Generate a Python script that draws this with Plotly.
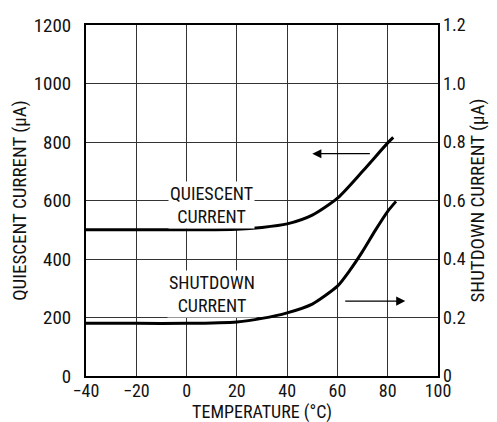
import plotly.graph_objects as go

# Data
quiescent_temp = [-40, -20, 0, 20, 30, 40, 50, 60, 70, 80, 82.2]
quiescent_ua = [500, 500, 500, 502, 508, 520, 550, 608, 700, 797, 816]

shutdown_temp = [-40, -20, 0, 20, 30, 40, 50, 60, 65, 70, 75, 80, 83.3]
shutdown_ua = [0.180, 0.180, 0.180, 0.185, 0.197, 0.216, 0.246, 0.307, 0.362, 0.426, 0.497, 0.563, 0.597]

x_ticks = [-40, -20, 0, 20, 40, 60, 80, 100]
x_labels = ["\u221240", "\u221220", "0", "20", "40", "60", "80", "100"]
y1_ticks = [0, 200, 400, 600, 800, 1000, 1200]
y2_ticks = [0, 0.2, 0.4, 0.6, 0.8, 1.0, 1.2]
y2_labels = ["0", "0.2", "0.4", "0.6", "0.8", "1.0", "1.2"]

FONT = "Roboto Condensed, Liberation Sans Narrow, Arial Narrow, sans-serif"
TXT = dict(size=19, color="#111", family=FONT)
XTXT = dict(size=18, color="#111", family=FONT)
LBL = dict(size=18, color="#111", family=FONT)

fig = go.Figure()
fig.add_trace(go.Scatter(x=quiescent_temp, y=quiescent_ua, mode="lines",
                         line=dict(color="black", width=3, shape="spline", smoothing=0.7),
                         showlegend=False, yaxis="y"))
fig.add_trace(go.Scatter(x=shutdown_temp, y=shutdown_ua, mode="lines",
                         line=dict(color="black", width=3, shape="spline", smoothing=0.6),
                         showlegend=False, yaxis="y2"))

# labels
fig.add_annotation(x=10, y=583, yref="y", text="QUIESCENT<br>CURRENT", showarrow=False,
                   bgcolor="white", borderpad=1, font=LBL)
fig.add_annotation(x=10, y=279, yref="y", text="SHUTDOWN<br>CURRENT", showarrow=False,
                   bgcolor="white", borderpad=1, font=LBL)

# arrows
fig.add_annotation(x=50, y=760, ax=73.5, ay=760, xref="x", yref="y", axref="x", ayref="y",
                   text="", showarrow=True, arrowhead=2, arrowsize=1.4, arrowwidth=1.3, arrowcolor="black")
fig.add_annotation(x=87, y=0.256, ax=62.5, ay=0.256, xref="x", yref="y2", axref="x", ayref="y2",
                   text="", showarrow=True, arrowhead=2, arrowsize=1.4, arrowwidth=1.3, arrowcolor="black")

fig.update_layout(
    width=497, height=422,
    margin=dict(l=78, r=67, t=17, b=54),
    paper_bgcolor="white", plot_bgcolor="white",
    font=dict(family=FONT, color="#111"),
    xaxis=dict(range=[-40, 100], tickvals=x_ticks, ticktext=x_labels,
               showgrid=True, gridcolor="#333", gridwidth=1, zeroline=False,
               showline=True, linecolor="black", linewidth=2, mirror=True,
               ticks="", tickfont=XTXT, automargin=False, ticklabelstandoff=-3,
               title=dict(text="TEMPERATURE (°C)", font=XTXT, standoff=0)),
    yaxis=dict(range=[0, 1200], tickvals=y1_ticks,
               showgrid=True, gridcolor="#333", gridwidth=1, zeroline=False,
               showline=True, linecolor="black", linewidth=2, mirror=True,
               ticks="", tickfont=TXT, automargin=False, ticklabelstandoff=9,
               title=dict(text="QUIESCENT CURRENT (\u03bcA)", font=TXT, standoff=2)),
    yaxis2=dict(range=[0, 1.2], tickvals=y2_ticks, ticktext=y2_labels, overlaying="y", side="right",
                showgrid=False, zeroline=False, ticks="", tickfont=XTXT, automargin=False,
                ticklabelstandoff=4,
                title=dict(text="SHUTDOWN CURRENT (\u03bcA)", font=TXT, standoff=0)),
)

fig.write_html("out.html")
